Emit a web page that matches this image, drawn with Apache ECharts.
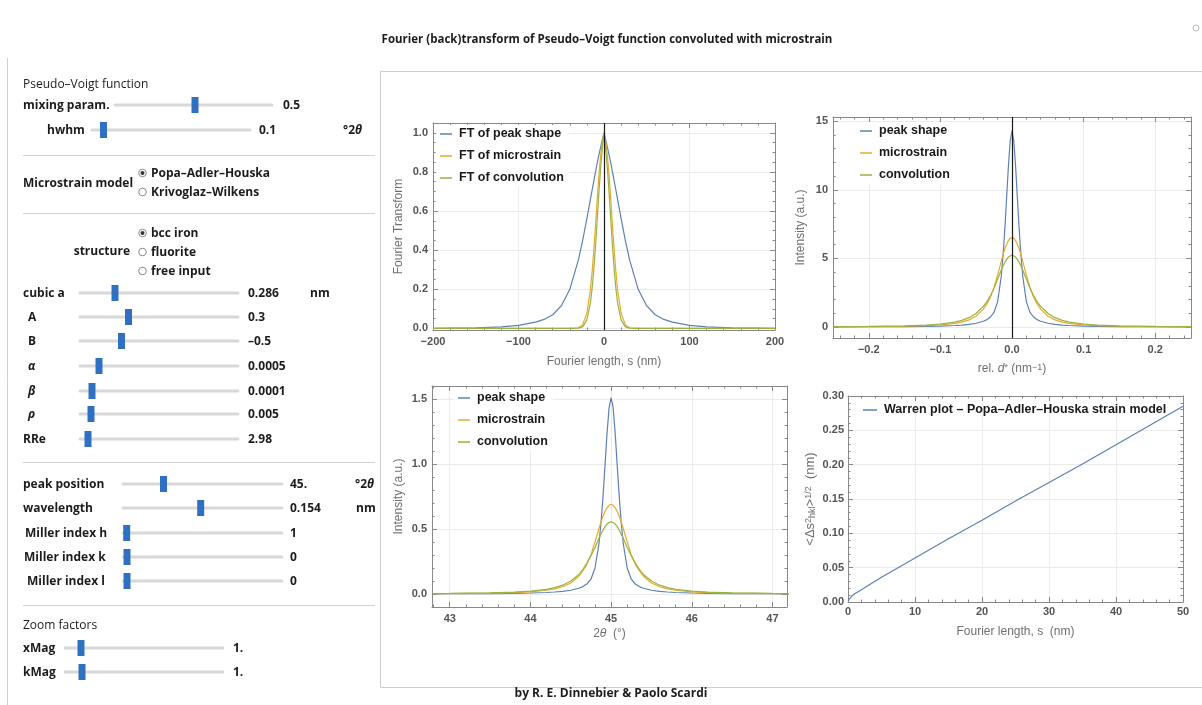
<!DOCTYPE html>
<html>
<head>
<meta charset="utf-8">
<script src="https://cdn.jsdelivr.net/npm/echarts@6/dist/echarts.min.js"></script>
<style>
html,body{margin:0;padding:0;background:#ffffff;}
#chart{width:1202px;height:705px;}
</style>
</head>
<body>
<div id="chart"></div>
<script>
// ---------------- DATA ----------------
// Plot 1: Fourier transforms vs Fourier length s (nm)
const ftS      = [-200,-150,-120,-100,-80,-70,-60,-50,-40,-30,-25,-20,-16,-14,-12,-10,-8,-6,-4,-2,0,2,4,6,8,10,12,14,16,20,25,30,40,50,60,70,80,100,120,150,200];
const ftPeak   = [0.0005,0.0028,0.008,0.016,0.032,0.046,0.07,0.115,0.2,0.349,0.449,0.562,0.657,0.705,0.752,0.798,0.843,0.886,0.926,0.964,1.0,0.964,0.926,0.886,0.843,0.798,0.752,0.705,0.657,0.562,0.449,0.349,0.2,0.115,0.07,0.046,0.032,0.016,0.008,0.0028,0.0005];
const ftStrain = [0,0,0,0,0,0,0,0,0,0.003,0.018,0.078,0.195,0.285,0.395,0.52,0.655,0.78,0.88,0.95,1.0,0.95,0.88,0.78,0.655,0.52,0.395,0.285,0.195,0.078,0.018,0.003,0,0,0,0,0,0,0,0,0];
const ftConv   = [0,0,0,0,0,0,0,0,0,0.001,0.008,0.044,0.128,0.201,0.297,0.415,0.552,0.691,0.815,0.916,1.0,0.916,0.815,0.691,0.552,0.415,0.297,0.201,0.128,0.044,0.008,0.001,0,0,0,0,0,0,0,0,0];

// Plot 2: intensity vs rel. d* (nm^-1)
const dStar   = [-0.25,-0.2,-0.15,-0.12,-0.1,-0.08,-0.07,-0.06,-0.05,-0.04,-0.035,-0.03,-0.025,-0.02,-0.015,-0.0125,-0.01,-0.0075,-0.005,-0.0025,0,0.0025,0.005,0.0075,0.01,0.0125,0.015,0.02,0.025,0.03,0.035,0.04,0.05,0.06,0.07,0.08,0.1,0.12,0.15,0.2,0.25];
const dPeak   = [0.011,0.018,0.031,0.05,0.071,0.11,0.143,0.195,0.275,0.42,0.54,0.73,1.08,1.87,3.7,5.2,7.15,9.42,11.73,13.56,14.3,13.56,11.73,9.42,7.15,5.2,3.7,1.87,1.08,0.73,0.54,0.42,0.275,0.195,0.143,0.11,0.071,0.05,0.031,0.018,0.011];
const dStrain = [0.012,0.025,0.055,0.1,0.16,0.27,0.36,0.52,0.8,1.3,1.7,2.2,2.9,3.8,4.8,5.27,5.7,6.03,6.3,6.47,6.55,6.47,6.3,6.03,5.7,5.27,4.8,3.8,2.9,2.2,1.7,1.3,0.8,0.52,0.36,0.27,0.16,0.1,0.055,0.025,0.012];
const dConv   = [0.02,0.04,0.08,0.14,0.21,0.36,0.48,0.68,1.0,1.5,1.85,2.3,2.85,3.5,4.15,4.44,4.7,4.93,5.1,5.21,5.25,5.21,5.1,4.93,4.7,4.44,4.15,3.5,2.85,2.3,1.85,1.5,1.0,0.68,0.48,0.36,0.21,0.14,0.08,0.04,0.02];

// Plot 3: intensity vs 2theta (deg)
const twoTheta = [42.8,43.0,43.5,43.8,44.0,44.2,44.3,44.4,44.5,44.6,44.65,44.7,44.75,44.8,44.85,44.875,44.9,44.925,44.95,44.975,45.0,45.025,45.05,45.075,45.1,45.125,45.15,45.2,45.25,45.3,45.35,45.4,45.5,45.6,45.7,45.8,46.0,46.2,46.5,47.0,47.2];
const tPeak    = [0.0016,0.002,0.0033,0.0052,0.0075,0.0116,0.0152,0.0205,0.029,0.044,0.057,0.077,0.114,0.198,0.39,0.55,0.755,0.995,1.24,1.434,1.51,1.434,1.24,0.995,0.755,0.55,0.39,0.198,0.114,0.077,0.057,0.044,0.029,0.0205,0.0152,0.0116,0.0075,0.0052,0.0033,0.002,0.0016];
const tStrain  = [0.002,0.0027,0.006,0.011,0.017,0.029,0.039,0.056,0.085,0.137,0.18,0.228,0.3,0.4,0.505,0.555,0.6,0.636,0.664,0.682,0.69,0.682,0.664,0.636,0.6,0.555,0.505,0.4,0.3,0.228,0.18,0.137,0.085,0.056,0.039,0.029,0.017,0.011,0.006,0.0027,0.002];
const tConv    = [0.0032,0.0042,0.0085,0.0145,0.022,0.036,0.049,0.068,0.1,0.15,0.19,0.238,0.295,0.356,0.428,0.461,0.492,0.518,0.538,0.55,0.555,0.55,0.538,0.518,0.492,0.461,0.428,0.356,0.295,0.238,0.19,0.15,0.1,0.068,0.049,0.036,0.022,0.0145,0.0085,0.0042,0.0032];

// Plot 4: Warren plot
const warrenS   = [0,0.5,1,2,3,5,10,15,20,25,30,35,40,45,50];
const warrenRms = [0.002,0.008,0.012,0.018,0.024,0.036,0.064,0.092,0.119,0.147,0.174,0.201,0.229,0.257,0.285];

// Tick labels
const p1XTicks = [-200,-100,0,100,200];
const p1YTicks = [0,0.2,0.4,0.6,0.8,1.0];
const p2XTicks = [-0.2,-0.1,0,0.1,0.2];
const p2YTicks = [0,5,10,15];
const p3XTicks = [43,44,45,46,47];
const p3YTicks = [0,0.5,1.0,1.5];
const p4XTicks = [0,10,20,30,40,50];
const p4YTicks = [0,0.05,0.1,0.15,0.2,0.25,0.3];

// Series names
const ftNames  = ['FT of peak shape','FT of microstrain','FT of convolution'];
const prNames  = ['peak shape','microstrain','convolution'];
const warrenName = 'Warren plot – Popa–Adler–Houska strain model';

// Control panel content
const sliders = [
  {label:'mixing param.', lx:23, y:105, t0:115, t1:272, thumb:195, val:'0.5', vx:283},
  {label:'hwhm', lx:47, y:130, t0:92, t1:250, thumb:103.5, val:'0.1', vx:259, unit:'°2{it|θ}', ux:343},
  {label:'cubic a', lx:23, y:293, t0:80, t1:238, thumb:115, val:'0.286', vx:248, unit:'nm', ux:310},
  {label:'A', lx:28, y:317, t0:80, t1:238, thumb:128.5, val:'0.3', vx:248},
  {label:'B', lx:28, y:341, t0:80, t1:238, thumb:121.5, val:'–0.5', vx:248},
  {label:'α', lx:28, y:366, t0:80, t1:238, thumb:99, val:'0.0005', vx:248, italic:true},
  {label:'β', lx:28, y:391, t0:80, t1:238, thumb:92, val:'0.0001', vx:248, italic:true},
  {label:'ρ', lx:28, y:414, t0:80, t1:238, thumb:91, val:'0.005', vx:248, italic:true},
  {label:'RRe', lx:23, y:439, t0:80, t1:238, thumb:88, val:'2.98', vx:248},
  {label:'peak position', lx:23, y:484, t0:123, t1:282, thumb:163.5, val:'45.', vx:290, unit:'°2{it|θ}', ux:355},
  {label:'wavelength', lx:23, y:508, t0:123, t1:282, thumb:200.7, val:'0.154', vx:290, unit:'nm', ux:356},
  {label:'Miller index h', lx:25, y:533, t0:123, t1:282, thumb:126.7, val:'1', vx:290},
  {label:'Miller index k', lx:24, y:557, t0:123, t1:282, thumb:127, val:'0', vx:290},
  {label:'Miller index l', lx:27, y:581, t0:123, t1:282, thumb:127, val:'0', vx:290},
  {label:'xMag', lx:23, y:648, t0:65, t1:223, thumb:81, val:'1.', vx:233},
  {label:'kMag', lx:23, y:672, t0:65, t1:223, thumb:82, val:'1.', vx:233}
];
const radios = [
  {text:'Popa–Adler–Houska', y:173, on:true},
  {text:'Krivoglaz–Wilkens', y:192, on:false},
  {text:'bcc iron', y:233, on:true},
  {text:'fluorite', y:252, on:false},
  {text:'free input', y:271, on:false}
];
const separators = [155.5, 213.5, 462.5, 605.5];
const titleText = 'Fourier (back)transform of Pseudo–Voigt function convoluted with microstrain';
const footerText = 'by R. E. Dinnebier & Paolo Scardi';

// ---------------- STYLE ----------------
const BLUE = '#5E81B5', ORANGE = '#E6AB2E', GREEN = '#9AB23E';
const FRAME = '#888888', GRIDC = '#ebebeb', TICKC = '#555555', NAMEC = '#707070';
const PF = '"Liberation Sans", Arial, sans-serif';
const UF = '"Open Sans", "Noto Sans", sans-serif';
const UI_TEXT = '#1c1c1c';

function pair(xs, ys) { return xs.map((x, i) => [x, ys[i]]); }
function tickFmt(ticks, dec) {
  return function (v) {
    for (const t of ticks) {
      if (Math.abs(v - t) < 1e-7) return t.toFixed(dec).replace('-', '−');
    }
    return '';
  };
}
const nameRich = {
  it:  {fontStyle:'italic', color:NAMEC, fontFamily:PF, fontSize:12},
  sup: {fontSize:9, color:NAMEC, fontFamily:PF, verticalAlign:'top', lineHeight:10, padding:[0,0,6,0]},
  sub: {fontSize:9, color:NAMEC, fontFamily:PF, verticalAlign:'bottom', lineHeight:10, padding:[5,0,0,0]}
};

function mkAxis(g, pos, c, main) {
  const a = {
    type:'value', gridIndex:g, position:pos,
    min:c.min, max:c.max, minInterval:c.major, maxInterval:c.major,
    axisLine:{show:true, onZero:false, lineStyle:{color:FRAME, width:1}},
    axisTick:{show:true, inside:true, length:5, lineStyle:{color:FRAME, width:1}},
    minorTick:{show:true, splitNumber:c.minor, length:2.5, lineStyle:{color:FRAME, width:1}},
    splitLine:{show:main, lineStyle:{color:GRIDC, width:1}},
    minorSplitLine:{show:false},
    axisLabel:{show:main, formatter:tickFmt(c.ticks, c.dec), color:TICKC, fontFamily:PF, fontWeight:'bold', fontSize:11, margin:c.lm},
    axisPointer:{show:false},
    silent:true
  };
  if (main && c.name) {
    a.name = c.name; a.nameLocation = 'middle'; a.nameGap = c.gap;
    a.nameTextStyle = {color:NAMEC, fontFamily:PF, fontSize:c.nsize || 12, rich:nameRich};
  }
  return a;
}

const grids = [
  {left:433, top:123, width:342, height:207},
  {left:833, top:117, width:358, height:221},
  {left:432, top:386, width:355, height:221},
  {left:848, top:396, width:335, height:206}
];
const xCfg = [
  {min:-200, max:200, major:100, minor:5, ticks:p1XTicks, dec:0, lm:6, name:'Fourier length, s (nm)', gap:26},
  {min:-0.25, max:0.25, major:0.1, minor:5, ticks:p2XTicks, dec:1, lm:6, name:'rel. {it|d}{sup|*} (nm{sup|−1})', gap:25},
  {min:42.78, max:47.18, major:1, minor:5, ticks:p3XTicks, dec:0, lm:6, name:'2{it|θ}  (°)', gap:21},
  {min:0, max:50, major:10, minor:5, ticks:p4XTicks, dec:0, lm:4, name:'Fourier length, s  (nm)', gap:24}
];
const yCfg = [
  {min:-0.008, max:1.05, major:0.2, minor:4, ticks:p1YTicks, dec:1, lm:5, name:'Fourier Transform', gap:28},
  {min:-0.8, max:15.3, major:5, minor:5, ticks:p2YTicks, dec:0, lm:5, name:'Intensity (a.u.)', gap:26},
  {min:-0.1, max:1.6, major:0.5, minor:5, ticks:p3YTicks, dec:1, lm:5, name:'Intensity (a.u.)', gap:27},
  {min:0, max:0.3, major:0.05, minor:5, ticks:p4YTicks, dec:2, lm:4, name:'<Δs{sup|2}{sub|hkl}>{sup|1/2}  (nm)', gap:31, nsize:13}
];

const xAxes = [], yAxes = [];
for (let g = 0; g < 4; g++) {
  xAxes.push(mkAxis(g, 'bottom', xCfg[g], true));
  xAxes.push(mkAxis(g, 'top', xCfg[g], false));
  yAxes.push(mkAxis(g, 'left', yCfg[g], true));
  yAxes.push(mkAxis(g, 'right', yCfg[g], false));
}

function lineSeries(g, name, xs, ys, color, extra) {
  const s = {
    type:'line', name:name, xAxisIndex:2*g, yAxisIndex:2*g,
    data:pair(xs, ys), showSymbol:false, symbol:'none', smooth:false,
    lineStyle:{color:color, width:1.2}, itemStyle:{color:color},
    emphasis:{disabled:true}, animation:false, clip:true, z:2
  };
  return Object.assign(s, extra || {});
}
const zeroLine = {
  markLine:{silent:true, symbol:'none', label:{show:false}, animation:false,
    lineStyle:{color:'#1a1a1a', width:1.2, type:'solid'}, emphasis:{disabled:true},
    data:[{xAxis:0}]}
};

const series = [
  lineSeries(0, ftNames[0], ftS, ftPeak, BLUE, zeroLine),
  lineSeries(0, ftNames[1], ftS, ftStrain, ORANGE),
  lineSeries(0, ftNames[2], ftS, ftConv, GREEN),
  lineSeries(1, prNames[0], dStar, dPeak, BLUE, zeroLine),
  lineSeries(1, prNames[1], dStar, dStrain, ORANGE),
  lineSeries(1, prNames[2], dStar, dConv, GREEN),
  lineSeries(2, prNames[0], twoTheta, tPeak, BLUE),
  lineSeries(2, prNames[1], twoTheta, tStrain, ORANGE),
  lineSeries(2, prNames[2], twoTheta, tConv, GREEN),
  lineSeries(3, warrenName, warrenS, warrenRms, BLUE)
];

function mkLegend(names, left, top, bg) {
  return {
    data:names, orient:'vertical', left:left, top:top, itemWidth:12, itemHeight:1.5, icon:'rect',
    itemGap:8, padding:[2,5,2,4], backgroundColor:bg, selectedMode:false,
    textStyle:{fontFamily:PF, fontWeight:'bold', fontSize:12.5, color:'#1a1a1a', lineHeight:14, padding:[0,0,0,2]}
  };
}
const legends = [
  mkLegend(ftNames, 436, 125, '#ffffff'),
  mkLegend(prNames, 856, 122, '#ffffff'),
  mkLegend(prNames, 454, 389, '#ffffff'),
  Object.assign(mkLegend([warrenName], 859, 401, 'rgba(255,255,255,0)'), {itemWidth:14})
];

// ---------------- control panel graphics ----------------
const els = [];
function txt(x, y, text, opt) {
  opt = opt || {};
  const al = opt.align || 'left';
  els.push({type:'text', x:x, y:y, silent:true, z:10, style:{
    text:text, fill:opt.fill || UI_TEXT,
    font:(opt.italic ? 'italic ' : '') + (opt.bold === false ? 'normal ' : 'bold ') + (opt.size || 12) + 'px ' + UF,
    align:al, textAlign:al,
    verticalAlign:'middle', textVerticalAlign:'middle',
    rich:opt.rich
  }});
}
// frames
els.push({type:'line', silent:true, shape:{x1:7.5, y1:58, x2:7.5, y2:705}, style:{stroke:'#cfcfcf', lineWidth:1}});
els.push({type:'rect', silent:true, shape:{x:380.5, y:71.5, width:840, height:616}, style:{fill:'none', stroke:'#cccccc', lineWidth:1}});
els.push({type:'circle', silent:true, shape:{cx:1196, cy:28, r:3}, style:{fill:'none', stroke:'#b8b8b8', lineWidth:1}});
txt(607, 40, titleText, {size:11.5, align:'center'});
txt(611, 694, footerText, {size:12, align:'center'});
txt(23, 85, 'Pseudo–Voigt function', {bold:false});
txt(23, 626, 'Zoom factors', {bold:false});
txt(23, 184, 'Microstrain model');
txt(130, 252, 'structure', {align:'right'});
separators.forEach(y => els.push({type:'line', silent:true, shape:{x1:23, y1:y, x2:375, y2:y}, style:{stroke:'#d2d2d2', lineWidth:1}}));
const itRich = {it:{fontStyle:'italic', font:'italic bold 12px ' + UF, fill:UI_TEXT}};
sliders.forEach(s => {
  txt(s.lx, s.y + 1, s.label, {italic:!!s.italic});
  els.push({type:'line', silent:true, shape:{x1:s.t0, y1:s.y, x2:s.t1, y2:s.y}, style:{stroke:'#d8d8d8', lineWidth:3, lineCap:'round'}});
  els.push({type:'rect', silent:true, z:11, shape:{x:s.thumb - 3.5, y:s.y - 8, width:7, height:16}, style:{fill:'#2F70C2'}});
  txt(s.vx, s.y + 1, s.val);
  if (s.unit) txt(s.ux, s.y + 1, s.unit, {rich:itRich});
});
radios.forEach(r => {
  els.push({type:'circle', silent:true, shape:{cx:142.5, cy:r.y, r:3.8}, style:{fill:'#ffffff', stroke:'#8a8a8a', lineWidth:1}});
  if (r.on) els.push({type:'circle', silent:true, shape:{cx:142.5, cy:r.y, r:2}, style:{fill:'#333333'}});
  txt(151, r.y + 1, r.text);
});

const option = {
  animation:false,
  backgroundColor:'#ffffff',
  grid:grids.map(g => Object.assign({containLabel:false, show:false}, g)),
  xAxis:xAxes,
  yAxis:yAxes,
  legend:legends,
  series:series,
  graphic:{elements:els}
};

const chart = echarts.init(document.getElementById('chart'), null, {renderer:'canvas', width:1202, height:705});
chart.setOption(option);
</script>
</body>
</html>
